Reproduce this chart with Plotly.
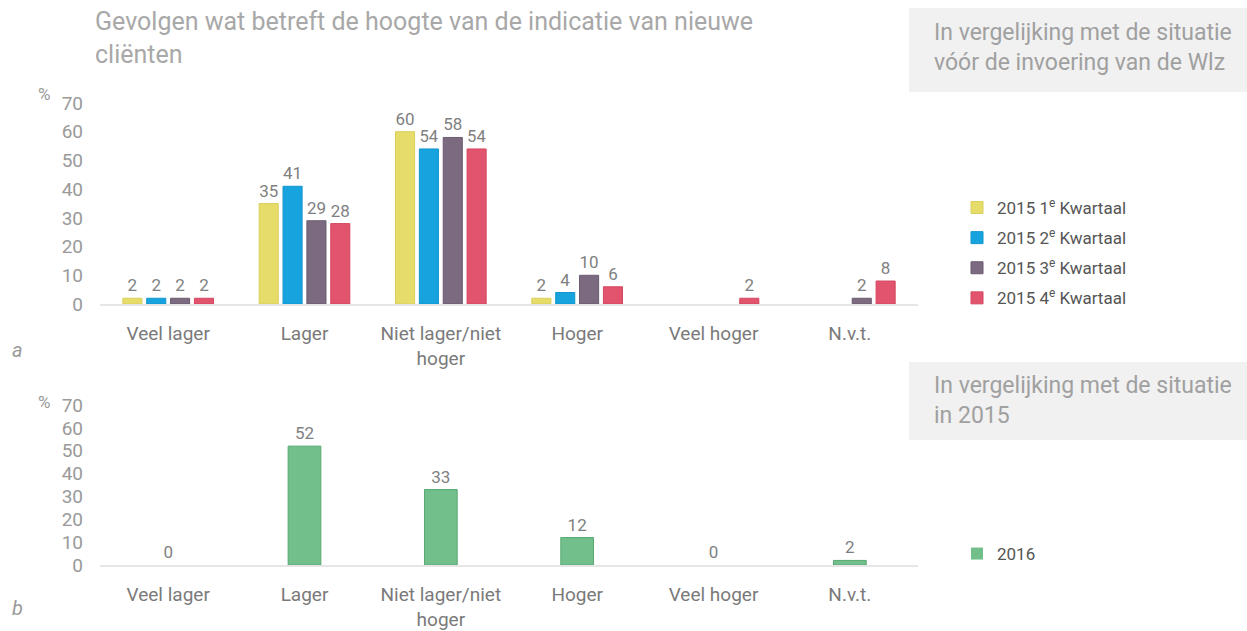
import plotly.graph_objects as go

W, H = 1247, 631

categories = ["Veel lager", "Lager", "Niet lager/niet<br>hoger", "Hoger", "Veel hoger", "N.v.t."]
series_names = ["2015 1<sup>e</sup> Kwartaal", "2015 2<sup>e</sup> Kwartaal",
                "2015 3<sup>e</sup> Kwartaal", "2015 4<sup>e</sup> Kwartaal"]
q1 = [2, 35, 60, 2, None, None]
q2 = [2, 41, 54, 4, None, None]
q3 = [2, 29, 58, 10, None, 2]
q4 = [2, 28, 54, 6, 2, 8]
y2016 = [0, 52, 33, 12, 0, 2]
yticks = [0, 10, 20, 30, 40, 50, 60, 70]

colors = ["#e6dc6a", "#17a3de", "#7b6a80", "#e2546e"]
borders = ["#d9cf5c", "#1296cc", "#6b5b70", "#d4475f"]
green, green_border = "#72bf8b", "#57a872"

FONT = "Roboto"
GRAY = "#9a9a9a"
DARK = "#555555"

def px_x(x):
    return x / W

def px_y(y):
    return 1 - y / H

fig = go.Figure()

for name, vals, c, b in zip(series_names, [q1, q2, q3, q4], colors, borders):
    fig.add_trace(go.Bar(
        x=categories, y=vals, name=name,
        marker=dict(color=c, line=dict(color=b, width=1)),
        text=[("" if v is None else str(v)) for v in vals],
        textposition="outside", cliponaxis=False,
        textfont=dict(color="#7f7f7f", size=17, family=FONT),
        xaxis="x", yaxis="y", legend="legend", legendgroup=name,
        offsetgroup=name,
    ))

fig.add_trace(go.Bar(
    x=categories, y=y2016, name="2016",
    marker=dict(color=green, line=dict(color=green_border,
                                       width=[0 if v == 0 else 1 for v in y2016])),
    text=[str(v) for v in y2016], textposition="outside", cliponaxis=False,
    textfont=dict(color="#7f7f7f", size=17, family=FONT),
    xaxis="x2", yaxis="y2", legend="legend2", width=0.24,
))

xdom = [px_x(100), px_x(918)]
axis_common = dict(showgrid=False, zeroline=False, showline=True, linecolor="#e6e6e6",
                   linewidth=2, ticks="", ticklabelstandoff=11, automargin=False,
                   tickfont=dict(color="#7a7a7a", size=19, family=FONT),
                   fixedrange=True)
yaxis_common = dict(range=[0, 70], tickvals=yticks, showgrid=False, zeroline=False,
                    showline=False, ticks="", ticklabelstandoff=16, automargin=False,
                    tickfont=dict(color=GRAY, size=19, family=FONT), fixedrange=True)

fig.update_layout(
    width=W, height=H,
    margin=dict(l=0, r=0, t=0, b=0, autoexpand=False),
    paper_bgcolor="white", plot_bgcolor="white",
    font=dict(family=FONT, color=GRAY),
    barmode="group", bargap=0.3, bargroupgap=0.2,
    xaxis=dict(domain=xdom, anchor="y", **axis_common),
    yaxis=dict(domain=[px_y(304), px_y(103)], anchor="x", **yaxis_common),
    xaxis2=dict(domain=xdom, anchor="y2", **axis_common),
    yaxis2=dict(domain=[px_y(565), px_y(405)], anchor="x2", **yaxis_common),
    legend=dict(x=px_x(957), y=px_y(190), xanchor="left", yanchor="top",
                font=dict(size=17, color=DARK, family=FONT), traceorder="grouped",
                tracegroupgap=5, itemwidth=30, bgcolor="rgba(0,0,0,0)"),
    legend2=dict(x=px_x(957), y=px_y(536), xanchor="left", yanchor="top",
                 font=dict(size=17, color=DARK, family=FONT), itemwidth=30,
                 bgcolor="rgba(0,0,0,0)"),
    showlegend=True,
)

shapes = [
    dict(type="rect", xref="paper", yref="paper", x0=px_x(909), x1=1,
         y0=px_y(92), y1=px_y(8), fillcolor="#f1f1f1", line=dict(width=0), layer="below"),
    dict(type="rect", xref="paper", yref="paper", x0=px_x(909), x1=1,
         y0=px_y(440), y1=px_y(362), fillcolor="#f1f1f1", line=dict(width=0), layer="below"),
]
fig.update_layout(shapes=shapes)

ann = [
    dict(text="Gevolgen wat betreft de hoogte van de indicatie van nieuwe<br>cliënten",
         x=px_x(93), y=px_y(5), xanchor="left", yanchor="top", align="left",
         font=dict(size=25, color="#a8a8a8", family=FONT)),
    dict(text="In vergelijking met de situatie<br>vóór de invoering van de Wlz",
         x=px_x(932), y=px_y(17), xanchor="left", yanchor="top", align="left",
         font=dict(size=23, color="#a0a0a0", family=FONT)),
    dict(text="In vergelijking met de situatie<br>in 2015",
         x=px_x(932), y=px_y(370), xanchor="left", yanchor="top", align="left",
         font=dict(size=23, color="#a0a0a0", family=FONT)),
    dict(text="%", x=px_x(36), y=px_y(94), xanchor="left", yanchor="middle",
         font=dict(size=17, color=GRAY, family=FONT)),
    dict(text="%", x=px_x(36), y=px_y(402), xanchor="left", yanchor="middle",
         font=dict(size=17, color=GRAY, family=FONT)),
    dict(text="<i>a</i>", x=px_x(10), y=px_y(350), xanchor="left", yanchor="middle",
         font=dict(size=20, color=GRAY, family=FONT)),
    dict(text="<i>b</i>", x=px_x(10), y=px_y(608), xanchor="left", yanchor="middle",
         font=dict(size=20, color=GRAY, family=FONT)),
]
for a in ann:
    a.update(xref="paper", yref="paper", showarrow=False)
fig.update_layout(annotations=ann)

fig.write_html("out.html", config={"displayModeBar": False},
               post_script="document.body.style.margin='0px';")
